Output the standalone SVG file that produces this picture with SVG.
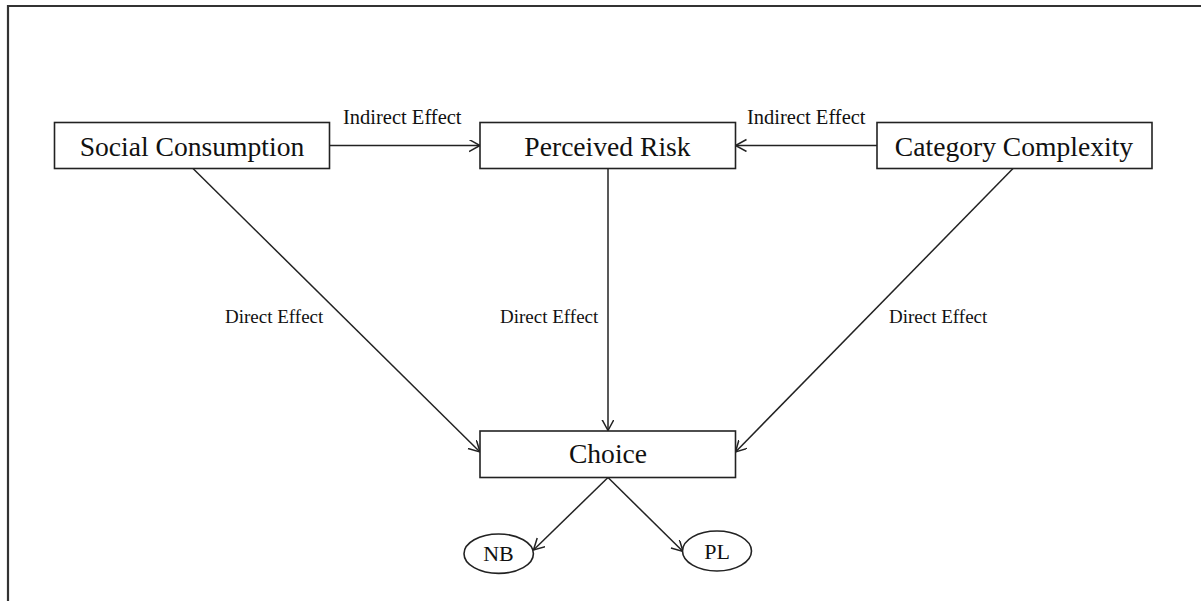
<svg xmlns="http://www.w3.org/2000/svg" width="1201" height="601" viewBox="0 0 1201 601">
  <style>
    .box { fill: #ffffff; stroke: #222222; stroke-width: 1.6; }
    .ell { fill: #ffffff; stroke: #222222; stroke-width: 1.6; }
    .edge { fill: none; stroke: #222222; stroke-width: 1.5; marker-end: url(#arrow); }
    .node-label { font-family: "Liberation Serif", "Times New Roman", serif; font-size: 27.6px; fill: #111111; text-anchor: middle; }
    .leaf-label { font-family: "Liberation Serif", "Times New Roman", serif; font-size: 22px; fill: #111111; text-anchor: middle; }
    .edge-label { font-family: "Liberation Serif", "Times New Roman", serif; font-size: 20.5px; fill: #111111; }
    .direct-label { font-family: "Liberation Serif", "Times New Roman", serif; font-size: 19px; fill: #111111; }
  </style>
  <defs>
    <marker id="arrow" markerUnits="userSpaceOnUse" markerWidth="16" markerHeight="16" refX="11" refY="6" orient="auto">
      <path d="M0,0 L11,6 L0,12" fill="none" stroke="#222222" stroke-width="1.5"/>
    </marker>
  </defs>

  <rect x="0" y="0" width="1201" height="601" fill="#ffffff"/>
  <!-- outer frame (top and left edges) -->
  <path d="M8,601 L8,6 L1201,6" fill="none" stroke="#333333" stroke-width="2.2"/>

  <g id="connectors">
    <line class="edge" x1="330" y1="145.5" x2="480" y2="145.5"/>
    <line class="edge" x1="877" y1="145.5" x2="735.5" y2="145.5"/>
    <line class="edge" x1="608" y1="168.5" x2="608" y2="430.5"/>
    <line class="edge" x1="193" y1="168.5" x2="480" y2="452"/>
    <line class="edge" x1="1013" y1="168.5" x2="735.5" y2="452"/>
    <line class="edge" x1="608" y1="477.5" x2="533.5" y2="550"/>
    <line class="edge" x1="608" y1="477.5" x2="683" y2="551.5"/>
    <text class="edge-label" x="343" y="124">Indirect Effect</text>
    <text class="edge-label" x="747" y="123.5">Indirect Effect</text>
    <text class="direct-label" x="225" y="323">Direct Effect</text>
    <text class="direct-label" x="500" y="323">Direct Effect</text>
    <text class="direct-label" x="889" y="323">Direct Effect</text>
  </g>

  <g id="social-consumption">
    <rect class="box" x="54.5" y="122.5" width="275" height="46"/>
    <text class="node-label" x="192" y="155.5">Social Consumption</text>
  </g>

  <g id="perceived-risk">
    <rect class="box" x="480" y="122.5" width="255.5" height="46"/>
    <text class="node-label" x="607.5" y="155.5">Perceived Risk</text>
  </g>

  <g id="category-complexity">
    <rect class="box" x="877" y="122.5" width="275" height="46"/>
    <text class="node-label" x="1014" y="155.5">Category Complexity</text>
  </g>

  <g id="choice">
    <rect class="box" x="480" y="431" width="255.5" height="46.5"/>
    <text class="node-label" x="608" y="463">Choice</text>
  </g>

  <g id="nb">
    <ellipse class="ell" cx="498.7" cy="553.7" rx="34.7" ry="19.7"/>
    <text class="leaf-label" x="498.5" y="561">NB</text>
  </g>

  <g id="pl">
    <ellipse class="ell" cx="717" cy="551" rx="34.5" ry="20"/>
    <text class="leaf-label" x="717" y="558.5">PL</text>
  </g>
</svg>
